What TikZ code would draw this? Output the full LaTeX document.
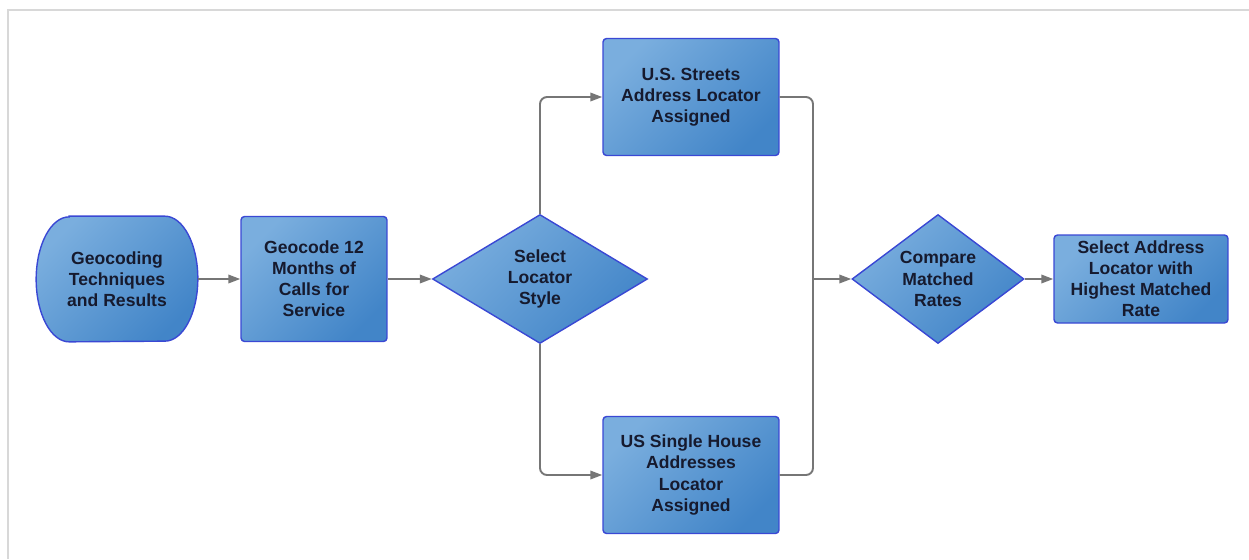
\documentclass[tikz,border=0pt]{standalone}
\usepackage{fontspec}
\setmainfont{Liberation Sans}
\usepackage{tikz}
\usetikzlibrary{shapes.geometric, arrows.meta, backgrounds}
\usetikzlibrary{positioning}

\definecolor{boxlight}{RGB}{122,174,222}
\definecolor{boxdark}{RGB}{66,133,200}
\definecolor{boxedge}{RGB}{58,72,212}
\definecolor{boxtext}{RGB}{22,26,46}
\definecolor{linegray}{RGB}{118,118,118}
\definecolor{framegray}{RGB}{216,216,216}

\tikzset{
    boxfill/.style={draw=boxedge, line width=0.8pt, top color=boxlight, bottom color=boxdark,
        shading angle=45},
    stepnode/.style={boxfill, text=boxtext, align=center, inner sep=1pt,
        font=\fontsize{10}{12}\selectfont\bfseries},
    process/.style={stepnode, rectangle, rounded corners=2pt},
    decision/.style={stepnode, diamond, inner sep=0pt},
    terminal/.style={rectangle, text=boxtext, align=center, inner sep=1pt,
        font=\fontsize{10}{12}\selectfont\bfseries},
    link/.style={draw=linegray, line width=1.1pt},
    flow/.style={link, -{Triangle[length=0.24cm, width=0.17cm]}}
}

\begin{document}
\begin{tikzpicture}[x=0.02cm, y=-0.02cm]
        % Canvas (pixel grid of the sketch)
        \useasboundingbox (0,0) rectangle (1249,559);
        \draw[framegray, line width=0.8pt] (8,559) -- (8,10) -- (1249,10); % page edge

        % Row of the main flow
        \def\ymid{279}
        \def\bulge{0.66cm} % depth of the terminal's rounded ends

        % Nodes
        \node[terminal, minimum width=3.22cm, minimum height=2.5cm] (start) at (117,\ymid) {Geocoding\\Techniques\\and Results};
        \node[process, minimum width=2.92cm, minimum height=2.5cm] (geocode) at (314,\ymid) {Geocode 12\\Months of\\Calls for\\Service};
        \node[decision, minimum width=4.3cm, minimum height=2.58cm, aspect=1.67] (style) at (540,\ymid) {Select\\Locator\\Style};
        \node[process, minimum width=3.52cm, minimum height=2.34cm] (streets) at (691,97) {U.S. Streets\\Address Locator\\Assigned};
        \node[process, minimum width=3.52cm, minimum height=2.34cm] (house) at (691,475) {US Single House\\Addresses\\Locator\\Assigned};
        \node[decision, minimum width=3.44cm, minimum height=2.58cm, aspect=1.33] (compare) at (938,\ymid) {Compare\\Matched\\Rates};
        \node[process, minimum width=3.48cm, minimum height=1.76cm] (best) at (1141,\ymid) {Select Address\\Locator with\\Highest Matched\\Rate};

        % Outline of the terminal (elliptic ends)
        \begin{scope}[on background layer]
            \path[boxfill] ([xshift=\bulge]start.north west) -- ([xshift=-\bulge]start.north east)
                arc[start angle=90, end angle=-90, x radius=\bulge, y radius=1.25cm]
                -- ([xshift=\bulge]start.south west)
                arc[start angle=270, end angle=90, x radius=\bulge, y radius=1.25cm] -- cycle;
        \end{scope}

        % Junction of the two locator branches
        \coordinate (merge) at (813,\ymid);

        % Connectors
        \draw[flow] (start) -- (geocode);
        \draw[flow] (geocode) -- (style);
        \draw[flow, rounded corners=4pt] (style.north) |- (streets);
        \draw[flow, rounded corners=4pt] (style.south) |- (house);
        \draw[link, rounded corners=4pt] (streets.east) -| (merge);
        \draw[link, rounded corners=4pt] (house.east) -| (merge);
        \draw[flow] (merge) -- (compare);
        \draw[flow] (compare) -- (best);
    \end{tikzpicture}
\end{document}
